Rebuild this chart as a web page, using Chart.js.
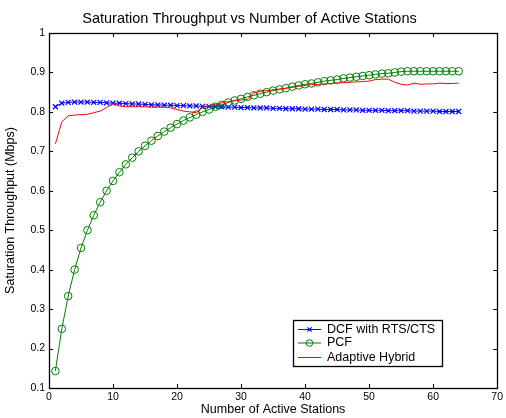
<!DOCTYPE html>
<html lang="en">
<head>
  <meta charset="UTF-8">
  <title>Saturation Throughput vs Number of Active Stations</title>
  <script src="https://cdn.jsdelivr.net/npm/chart.js"></script>
  <style>
    body { margin: 0; background: #fff; }
    #wrap { width: 506px; height: 418px; }
  </style>
</head>
<body>
  <div id="wrap">
    <canvas id="satChart" width="506" height="418"></canvas>
  </div>

  <script>
    // number of active stations (x)
    const stations = [1, 2, 3, 4, 5, 6, 7, 8, 9, 10, 11, 12, 13, 14, 15, 16,
      17, 18, 19, 20, 21, 22, 23, 24, 25, 26, 27, 28, 29, 30, 31, 32,
      33, 34, 35, 36, 37, 38, 39, 40, 41, 42, 43, 44, 45, 46, 47, 48,
      49, 50, 51, 52, 53, 54, 55, 56, 57, 58, 59, 60, 61, 62, 63, 64];

    const dcfValues = [0.813, 0.822, 0.824, 0.825, 0.825, 0.825, 0.824, 0.824, 0.823, 0.822, 0.822, 0.821, 0.820, 0.820, 0.819, 0.818,
      0.818, 0.817, 0.817, 0.816, 0.816, 0.815, 0.815, 0.814, 0.814, 0.813, 0.813, 0.812, 0.812, 0.811, 0.811, 0.810,
      0.810, 0.810, 0.809, 0.809, 0.808, 0.808, 0.808, 0.807, 0.807, 0.807, 0.806, 0.806, 0.806, 0.805, 0.805, 0.805,
      0.804, 0.804, 0.804, 0.804, 0.803, 0.803, 0.803, 0.803, 0.802, 0.802, 0.802, 0.802, 0.801, 0.801, 0.801, 0.801];

    const pcfValues = [0.143, 0.250, 0.333, 0.400, 0.455, 0.500, 0.538, 0.571, 0.600, 0.625, 0.647, 0.667, 0.684, 0.700, 0.714, 0.727,
      0.739, 0.750, 0.760, 0.769, 0.778, 0.786, 0.793, 0.800, 0.806, 0.813, 0.818, 0.824, 0.829, 0.833, 0.838, 0.842,
      0.846, 0.850, 0.854, 0.857, 0.860, 0.864, 0.867, 0.870, 0.872, 0.875, 0.878, 0.880, 0.882, 0.885, 0.887, 0.889,
      0.891, 0.893, 0.895, 0.897, 0.898, 0.900, 0.902, 0.903, 0.903, 0.903, 0.903, 0.903, 0.903, 0.903, 0.903, 0.903];

    const hybridValues = [0.719, 0.775, 0.790, 0.792, 0.793, 0.794, 0.798, 0.802, 0.811, 0.821, 0.815, 0.813, 0.813, 0.813, 0.813, 0.812,
      0.812, 0.812, 0.810, 0.806, 0.802, 0.800, 0.798, 0.812, 0.816, 0.819, 0.823, 0.826, 0.828, 0.830, 0.832, 0.848,
      0.852, 0.854, 0.856, 0.858, 0.860, 0.862, 0.865, 0.867, 0.869, 0.870, 0.871, 0.872, 0.873, 0.874, 0.875, 0.876,
      0.877, 0.878, 0.882, 0.883, 0.883, 0.875, 0.870, 0.868, 0.873, 0.870, 0.871, 0.871, 0.873, 0.872, 0.872, 0.873];

    const seriesNames = ['DCF with RTS/CTS', 'PCF', 'Adaptive Hybrid'];
    const xTicks = [0, 10, 20, 30, 40, 50, 60, 70];
    const yTicks = [0.1, 0.2, 0.3, 0.4, 0.5, 0.6, 0.7, 0.8, 0.9, 1];

    const FONT = '"Liberation Sans", Arial, Helvetica, sans-serif';

    function toPoints(values) {
      return values.map((v, i) => ({ x: stations[i], y: v }));
    }

    // box around plot + inward tick marks, matlab style
    const axesBox = {
      id: 'axesBox',
      afterDatasetsDraw(chart) {
        const { ctx, chartArea: a, scales } = chart;
        const len = 4;
        ctx.save();
        ctx.strokeStyle = '#000';
        ctx.lineWidth = 1;
        ctx.beginPath();
        xTicks.forEach(t => {
          const px = Math.round(scales.x.getPixelForValue(t)) + 0.5;
          ctx.moveTo(px, a.bottom); ctx.lineTo(px, a.bottom - len);
          ctx.moveTo(px, a.top); ctx.lineTo(px, a.top + len);
        });
        yTicks.forEach(t => {
          const py = Math.round(scales.y.getPixelForValue(t)) + 0.5;
          ctx.moveTo(a.left, py); ctx.lineTo(a.left + len, py);
          ctx.moveTo(a.right, py); ctx.lineTo(a.right - len, py);
        });
        ctx.stroke();
        ctx.lineWidth = 1.3;
        ctx.strokeRect(Math.round(a.left) + 0.5, Math.round(a.top) + 0.5,
          Math.round(a.right - a.left), Math.round(a.bottom - a.top));
        ctx.restore();
      }
    };

    // legend box in the lower right of the axes
    const boxLegend = {
      id: 'boxLegend',
      afterDraw(chart) {
        const { ctx } = chart;
        const left = 293, top = 320, w = 149, h = 46;
        ctx.save();
        ctx.fillStyle = '#fff';
        ctx.fillRect(left, top, w, h);
        ctx.strokeStyle = '#000';
        ctx.lineWidth = 1.3;
        ctx.strokeRect(left + 0.5, top + 0.5, w, h);
        ctx.font = '12.5px ' + FONT;
        ctx.textBaseline = 'middle';
        ctx.textAlign = 'left';
        const rows = [329.5, 343, 357.5];
        chart.data.datasets.forEach((ds, i) => {
          const y = rows[i];
          ctx.strokeStyle = ds.borderColor;
          ctx.lineWidth = 1;
          ctx.beginPath();
          ctx.moveTo(298, y); ctx.lineTo(321, y);
          ctx.stroke();
          if (ds.pointRadius > 0) {
            ctx.fillStyle = 'rgba(0,0,0,0)';
            ctx.lineWidth = ds.pointBorderWidth;
            Chart.helpers.drawPoint(ctx, {
              pointStyle: ds.pointStyle, radius: ds.pointRadius - 0.5, rotation: 0,
              borderWidth: ds.pointBorderWidth
            }, 309.5, y);
          }
          ctx.fillStyle = '#000';
          ctx.fillText(ds.label, 327, y);
        });
        ctx.restore();
      }
    };

    const config = {
      type: 'line',
      data: {
        datasets: [
          {
            label: seriesNames[0],
            data: toPoints(dcfValues),
            borderColor: '#0000ff',
            backgroundColor: '#0000ff',
            borderWidth: 1,
            pointStyle: 'crossRot',
            pointRadius: 3.5,
            pointBorderWidth: 1.2,
            order: 3
          },
          {
            label: seriesNames[1],
            data: toPoints(pcfValues),
            borderColor: '#008000',
            backgroundColor: 'rgba(0,0,0,0)',
            borderWidth: 1,
            pointStyle: 'circle',
            pointRadius: 3.8,
            pointBorderWidth: 1,
            order: 2
          },
          {
            label: seriesNames[2],
            data: toPoints(hybridValues),
            borderColor: '#ff0000',
            backgroundColor: '#ff0000',
            borderWidth: 1,
            pointRadius: 0,
            pointBorderWidth: 0,
            order: 1
          }
        ]
      },
      options: {
        responsive: false,
        animation: false,
        events: [],
        layout: { padding: { top: 0, right: 7, left: 0, bottom: 0 } },
        scales: {
          x: {
            type: 'linear',
            min: 0,
            max: 70,
            afterBuildTicks: s => { s.ticks = xTicks.map(v => ({ value: v })); },
            afterFit: s => { s.height = 30; },
            grid: { display: false, drawTicks: false, tickLength: 0 },
            border: { display: false },
            ticks: {
              color: '#000',
              padding: 3,
              maxRotation: 0,
              font: { family: FONT, size: 10.5 }
            },
            title: {
              display: true,
              text: 'Number of Active Stations',
              color: '#000',
              font: { family: FONT, size: 12.5 },
              padding: { top: 0, bottom: 1 }
            }
          },
          y: {
            min: 0.1,
            max: 1,
            afterBuildTicks: s => { s.ticks = yTicks.map(v => ({ value: v })); },
            afterFit: s => { s.width = 49; },
            grid: { display: false, drawTicks: false, tickLength: 0 },
            border: { display: false },
            ticks: {
              color: '#000',
              padding: 4,
              font: { family: FONT, size: 10.5 },
              callback: v => String(Math.round(v * 10) / 10)
            },
            title: {
              display: true,
              text: 'Saturation Throughput (Mbps)',
              color: '#000',
              font: { family: FONT, size: 12.5 },
              padding: { top: 3, bottom: 0 }
            }
          }
        },
        plugins: {
          legend: { display: false },
          tooltip: { enabled: false },
          title: {
            display: true,
            text: 'Saturation Throughput vs Number of Active Stations',
            color: '#000',
            font: { family: FONT, size: 14.5, weight: 'normal' },
            padding: { top: 10.5, bottom: 5.1 }
          }
        }
      },
      plugins: [axesBox, boxLegend]
    };

    const ctx = document.getElementById('satChart').getContext('2d');
    new Chart(ctx, config);
  </script>
</body>
</html>
